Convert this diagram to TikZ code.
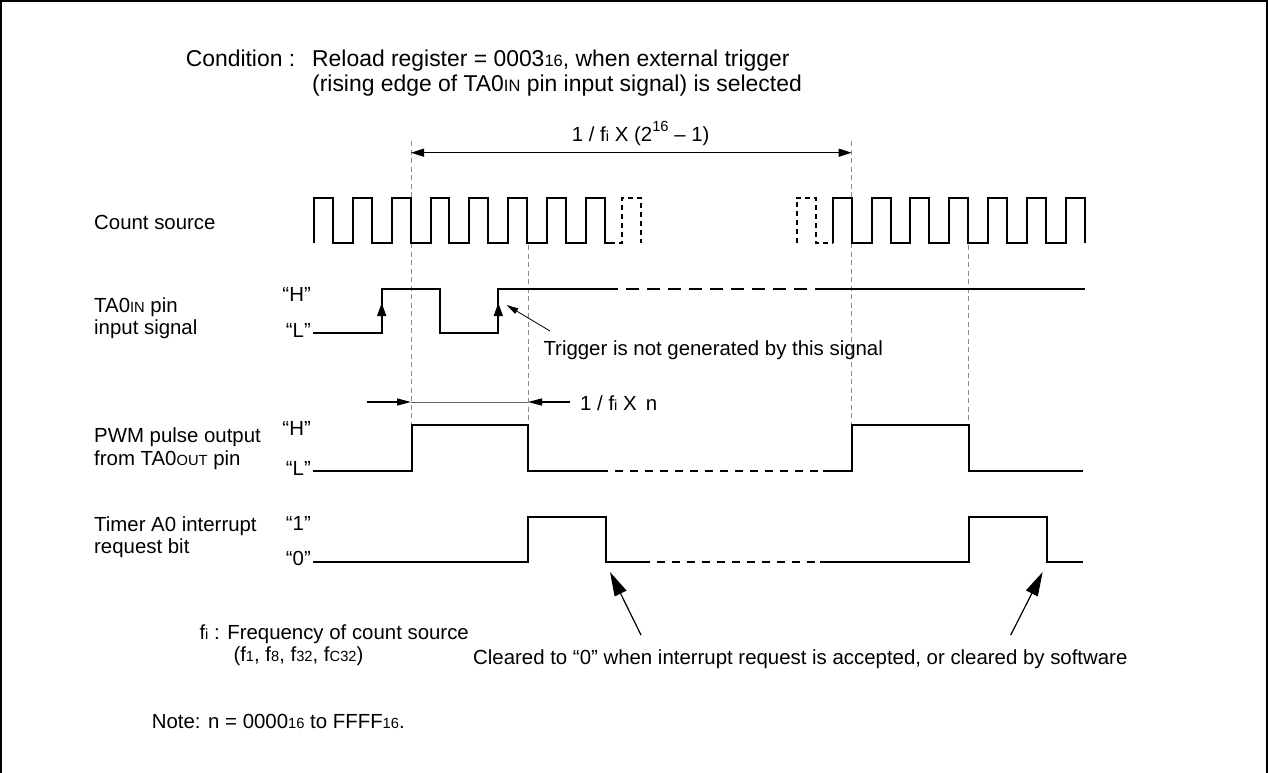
\documentclass[tikz,border=0pt]{standalone}
\usepackage{fontspec}
\setmainfont{Liberation Sans}
\usetikzlibrary{arrows.meta}
\newcommand\lblfont{\fontsize{20.4}{22}\selectfont}
\newcommand\cndfont{\fontsize{22.9}{25}\selectfont}
\newcommand\sm[1]{{\fontsize{14.7}{15}\selectfont #1}}
\newcommand\smc[1]{{\fontsize{16.5}{17}\selectfont #1}}
\tikzset{
  wave/.style={line width=2pt, line join=miter, line cap=butt},
  wdash/.style={line width=2pt, dash pattern=on 8pt off 7pt},
  wdashin/.style={line width=2pt, dash pattern=on 13pt off 8pt},
  pdash/.style={line width=1.8pt, dash pattern=on 5pt off 4pt},
  guide/.style={line width=0.9pt, black!45, dash pattern=on 5pt off 3.5pt},
  txt/.style={anchor=base west, inner sep=0pt, font=\lblfont},
  lvl/.style={anchor=base east, inner sep=0pt, font=\lblfont},
  ctxt/.style={anchor=base west, inner sep=0pt, font=\cndfont},
  dimarrow/.style={line width=1.3pt, {Triangle[length=13pt,width=8pt]}-{Triangle[length=13pt,width=8pt]}},
  pwarrow/.style={line width=1.3pt, -{Triangle[length=14pt,width=7pt]}},
  thinarrow/.style={line width=0.8pt, -{Triangle[length=12pt,width=6pt]}},
  bigarrow/.style={line width=1.2pt, -{Triangle[length=24pt,width=13pt]}},
}
\begin{document}
\begin{tikzpicture}[x=1pt,y=-1pt]
\useasboundingbox (0,0) rectangle (1268,773);
% frame
\draw[line width=2pt] (1,774) -- (1,1) -- (1266.5,1) -- (1266.5,774);

% condition text
\node[ctxt] (cond) at (185.6,66.7) {Condition :};
\node[ctxt] (cond1) at (312,66.7) {Reload register = 0003\smc{16}, when external trigger};
\node[ctxt] (cond2) at (312,91.7) {(rising edge of TA0\smc{IN} pin input signal) is selected};

% guides
\draw[guide] (411,141) -- (411,425);
\draw[guide] (528,245) -- (528,425);
\draw[guide] (851.7,141) -- (851.7,425);
\draw[guide] (968.7,245) -- (968.7,425);

% top dimension
\coordinate (d1) at (411,152.7);
\coordinate (d2) at (851.7,152.7);
\draw[dimarrow] (d1) -- (d2);
\node[txt] (dlab) at (571.7,141.7) {1 / f\sm{i} X (2\raisebox{10pt}{\sm{16}} – 1)};

% left labels
\node[txt] (lcs) at (94,229) {Count source};
\node[txt] (lin1) at (94,312.7) {TA0\sm{IN} pin};
\node[txt] (lin2) at (94,334.3) {input signal};
\node[txt] (lpw1) at (94,442.7) {PWM pulse output};
\node[txt] (lpw2) at (94,465) {from TA0\sm{OUT} pin};
\node[txt] (lir1) at (94,531.7) {Timer A0 interrupt};
\node[txt] (lir2) at (94,553.3) {request bit};

% level labels
\node[lvl] (inH) at (311,301.5) {“H”};
\node[lvl] (inL) at (311,337.5) {“L”};
\node[lvl] (pwH) at (311,435) {“H”};
\node[lvl] (pwL) at (311,475) {“L”};
\node[lvl] (ir1) at (311,530) {“1”};
\node[lvl] (ir0) at (311,565.5) {“0”};

% count source
\draw[wave] (314,243) \foreach \k in {0,...,6}{ -- ++(0,-45.3) -- ++(18.9,0) -- ++(0,45.3) -- ++(19.96,0) }
  -- ++(0,-45.3) -- ++(18.9,0) -- ++(0,45.3) -- ++(5,0);
\draw[pdash] (610,243) -- (621.7,243) -- (621.7,197.7) -- (640.7,197.7) -- (640.7,243);
\draw[pdash] (796.7,243) -- (796.7,197.7) -- (816,197.7) -- (816,243) -- (832.7,243);
\draw[wave] (832.7,243) \foreach \k in {0,...,5}{ -- ++(0,-45.3) -- ++(19,0) -- ++(0,45.3) -- ++(19.83,0) }
  -- ++(0,-45.3) -- ++(19,0) -- ++(0,45.3);

% TA0IN
\draw[wave] (313.3,333.3) -- (381.7,333.3) -- (381.7,289) -- (440,289) -- (440,333.3) -- (498.3,333.3) -- (498.3,289) -- (605,289);
\draw[wdashin] (605,289) -- (820,289);
\draw[wave] (820,289) -- (1085,289);
\fill (381.7,303) -- (377,316) -- (386.4,316) -- cycle;
\fill (498.3,303) -- (493.6,316) -- (503,316) -- cycle;
\coordinate (trtip) at (506.5,305);
\coordinate (trtail) at (550,331);
\draw[thinarrow] (trtail) -- (trtip);
\node[txt] (trig) at (543.3,355) {Trigger is not generated by this signal};

% PWM dimension
\coordinate (p0) at (367,402);
\coordinate (p1) at (411,402);
\coordinate (p2) at (528,402);
\coordinate (p3) at (570,402);
\draw[pwarrow] (p0) -- (p1);
\draw[line width=0.6pt, black!60] (p1) -- (p2);
\draw[pwarrow] (p3) -- (p2);
\node[txt] (plab) at (580,410) {1 / f\sm{i} X\, n};

% PWM
\draw[wave] (313,470.7) -- (411.5,470.7) -- (411.5,425) -- (528,425) -- (528,470.7) -- (600,470.7);
\draw[wdash] (600,470.7) -- (823,470.7);
\draw[wave] (823,470.7) -- (851.7,470.7) -- (851.7,425) -- (968.7,425) -- (968.7,470.7) -- (1082.7,470.7);

% interrupt
\draw[wave] (313,561.7) -- (528,561.7) -- (528,516.7) -- (606,516.7) -- (606,561.7) -- (641.7,561.7);
\draw[wdash] (641.7,561.7) -- (820,561.7);
\draw[wave] (820,561.7) -- (968.7,561.7) -- (968.7,516.7) -- (1046.7,516.7) -- (1046.7,561.7) -- (1082.7,561.7);

% bottom arrows
\coordinate (a1tip) at (610,572);
\coordinate (a1tail) at (641,635);
\coordinate (a2tip) at (1042.7,572);
\coordinate (a2tail) at (1010.7,635);
\draw[bigarrow] (a1tail) -- (a1tip);
\draw[bigarrow] (a2tail) -- (a2tip);

% bottom texts
\node[txt] (fi1) at (199.3,639) {f\sm{i} : Frequency of count source};
\node[txt] (fi2) at (233.3,661.7) {(f\sm{1}, f\sm{8}, f\sm{32}, f\sm{C32})};
\node[txt] (clr) at (473,664) {Cleared to “0” when interrupt request is accepted, or cleared by software};
\node[txt] (note) at (151.7,728.3) {Note: n = 0000\sm{16} to FFFF\sm{16}.};
\end{tikzpicture}
\end{document}
